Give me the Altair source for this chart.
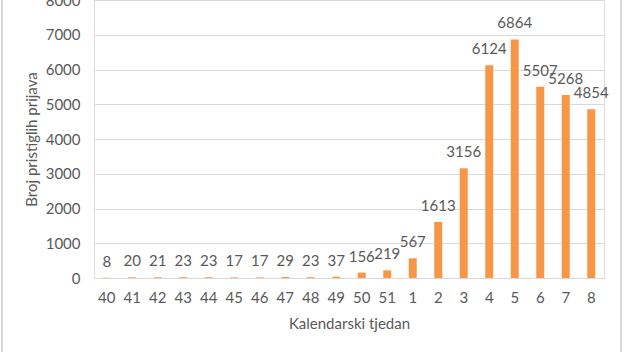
import altair as alt
import pandas as pd

weeks = ["40", "41", "42", "43", "44", "45", "46", "47", "48", "49", "50", "51",
         "1", "2", "3", "4", "5", "6", "7", "8"]
counts = [8, 20, 21, 23, 23, 17, 17, 29, 23, 37, 156, 219,
          567, 1613, 3156, 6124, 6864, 5507, 5268, 4854]
y_ticks = [0, 1000, 2000, 3000, 4000, 5000, 6000, 7000, 8000]

df = pd.DataFrame({"week": weeks, "count": counts})

FONT = "Lato"
TXT = "#595959"
GRID = "#D9D9D9"
BAR = "#F79646"
FS = 15

x = alt.X("week:N", sort=weeks,
          scale=alt.Scale(paddingInner=0.686, paddingOuter=0.343),
          axis=alt.Axis(title="Kalendarski tjedan", labelAngle=0, ticks=False,
                        domain=True, domainColor=GRID, labelPadding=12,
                        titlePadding=11, labelFontSize=FS, titleFontSize=FS,
                        labelColor=TXT, titleColor=TXT, titleFontWeight="normal"))
y = alt.Y("count:Q", scale=alt.Scale(domain=[0, 8000], nice=False),
          axis=alt.Axis(title="Broj pristiglih prijava", values=y_ticks, format="d",
                        labelOverlap=False, ticks=False, domain=False, grid=True,
                        gridColor=GRID, labelPadding=14, titlePadding=6,
                        labelFontSize=FS, titleFontSize=FS, labelColor=TXT,
                        titleColor=TXT, titleFontWeight="normal"))

base = alt.Chart(df).encode(x=x, y=y)
bars = base.mark_bar(color=BAR)
labels = base.mark_text(dy=-16, baseline="middle", fontSize=FS,
                        font=FONT, color=TXT).encode(text="count:Q")

frame_l = alt.Chart(df).mark_rule(color=GRID, strokeWidth=1).encode(
    x=alt.value(-92), y=alt.value(0), y2=alt.value(352))
frame_r = alt.Chart(df).mark_rule(color=GRID, strokeWidth=1).encode(
    x=alt.value(527), y=alt.value(0), y2=alt.value(352))

chart = alt.layer(bars, labels, frame_l, frame_r).properties(
    width=510, height=278,
    autosize=alt.AutoSizeParams(type="none"),
    padding={"left": 94, "top": 0, "right": 20, "bottom": 74},
).configure_view(stroke=None).configure(font=FONT, background="white")

chart.save("out.html", embed_options={"renderer": "svg", "actions": False})
